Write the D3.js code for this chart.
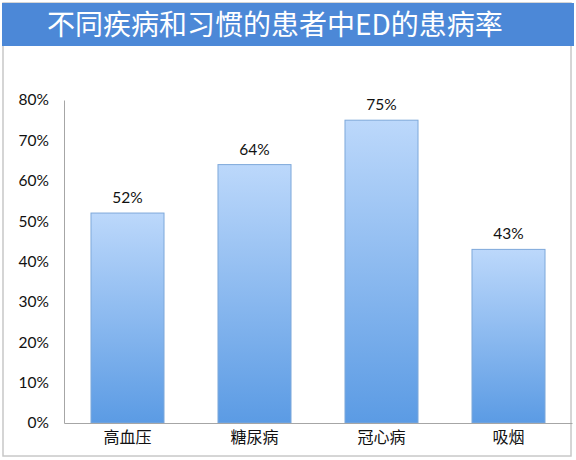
<!DOCTYPE html>
<html>
<head>
<meta charset="utf-8">
<script src="https://cdn.jsdelivr.net/npm/d3@7"></script>
<style>
  html, body { margin: 0; padding: 0; background: #fff; }
</style>
</head>
<body>
<svg id="grafico"></svg>
<script>
// datos
var categorias = ["高血压", "糖尿病", "冠心病", "吸烟"];
var valores = [0.52, 0.64, 0.75, 0.43];
var ticksY = [0, 0.1, 0.2, 0.3, 0.4, 0.5, 0.6, 0.7, 0.8];
var titulo = "不同疾病和习惯的患者中ED的患病率";

var anchura = 576, altura = 460;
var margen = { top: 100, right: 4, bottom: 37, left: 64 };

var svg = d3.select("#grafico")
    .attr("width", anchura)
    .attr("height", altura);

// degradado de las barras
var defs = svg.append("defs");
var grad = defs.append("linearGradient")
    .attr("id", "gradBarra")
    .attr("x1", 0).attr("y1", 0).attr("x2", 0).attr("y2", 1);
grad.append("stop").attr("offset", "0%").attr("stop-color", "#bcd8fb");
grad.append("stop").attr("offset", "100%").attr("stop-color", "#5b9be4");

// marco exterior
svg.append("rect")
    .attr("x", 3).attr("y", 3)
    .attr("width", 568).attr("height", 453)
    .attr("fill", "white")
    .attr("stroke", "#c8c8c8")
    .attr("stroke-width", 1.5);

// barra del titulo
svg.append("rect")
    .attr("x", 2).attr("y", 3)
    .attr("width", 572).attr("height", 43)
    .attr("fill", "#4c88d7");
svg.append("text")
    .attr("x", 275).attr("y", 35)
    .attr("text-anchor", "middle")
    .attr("fill", "white")
    .style("font", "400 28px 'Noto Sans CJK SC', sans-serif")
    .text(titulo);

var x = d3.scaleBand()
    .domain(categorias)
    .range([margen.left, anchura - margen.right])
    .paddingInner(0.425)
    .paddingOuter(0.2125);

var y = d3.scaleLinear()
    .domain([0, 0.8])
    .range([altura - margen.bottom, margen.top]);

// eje Y
var ejeY = svg.append("g")
    .attr("transform", "translate(" + margen.left + ",0)")
    .call(d3.axisLeft(y).tickValues(ticksY).tickFormat(d3.format(".0%")).tickSize(0).tickPadding(15));
ejeY.select(".domain").attr("stroke", "#a6a6a6").attr("stroke-width", 1);
ejeY.selectAll("text")
    .style("font", "15.5px Lato, 'Open Sans', sans-serif")
    .attr("fill", "#111");

// barras
svg.selectAll(".barra")
    .data(valores)
    .join("rect")
    .attr("class", "barra")
    .attr("x", function (d, i) { return x(categorias[i]); })
    .attr("y", function (d) { return y(d); })
    .attr("width", x.bandwidth())
    .attr("height", function (d) { return y(0) - y(d); })
    .attr("fill", "url(#gradBarra)")
    .attr("stroke", "#7ea8da")
    .attr("stroke-width", 1);

// etiquetas de valor
svg.selectAll(".etiqueta")
    .data(valores)
    .join("text")
    .attr("class", "etiqueta")
    .attr("x", function (d, i) { return x(categorias[i]) + x.bandwidth() / 2; })
    .attr("y", function (d) { return y(d) - 10; })
    .attr("text-anchor", "middle")
    .style("font", "15.5px Lato, 'Open Sans', sans-serif")
    .attr("fill", "#111")
    .text(d3.format(".0%"));

// eje X
var ejeX = svg.append("g")
    .attr("transform", "translate(0," + y(0) + ")")
    .call(d3.axisBottom(x).tickSize(0).tickPadding(9));
ejeX.select(".domain").attr("stroke", "#a6a6a6").attr("stroke-width", 1);
ejeX.selectAll("text")
    .style("font", "16px 'Noto Sans CJK SC', serif")
    .attr("fill", "#111");
</script>
</body>
</html>
